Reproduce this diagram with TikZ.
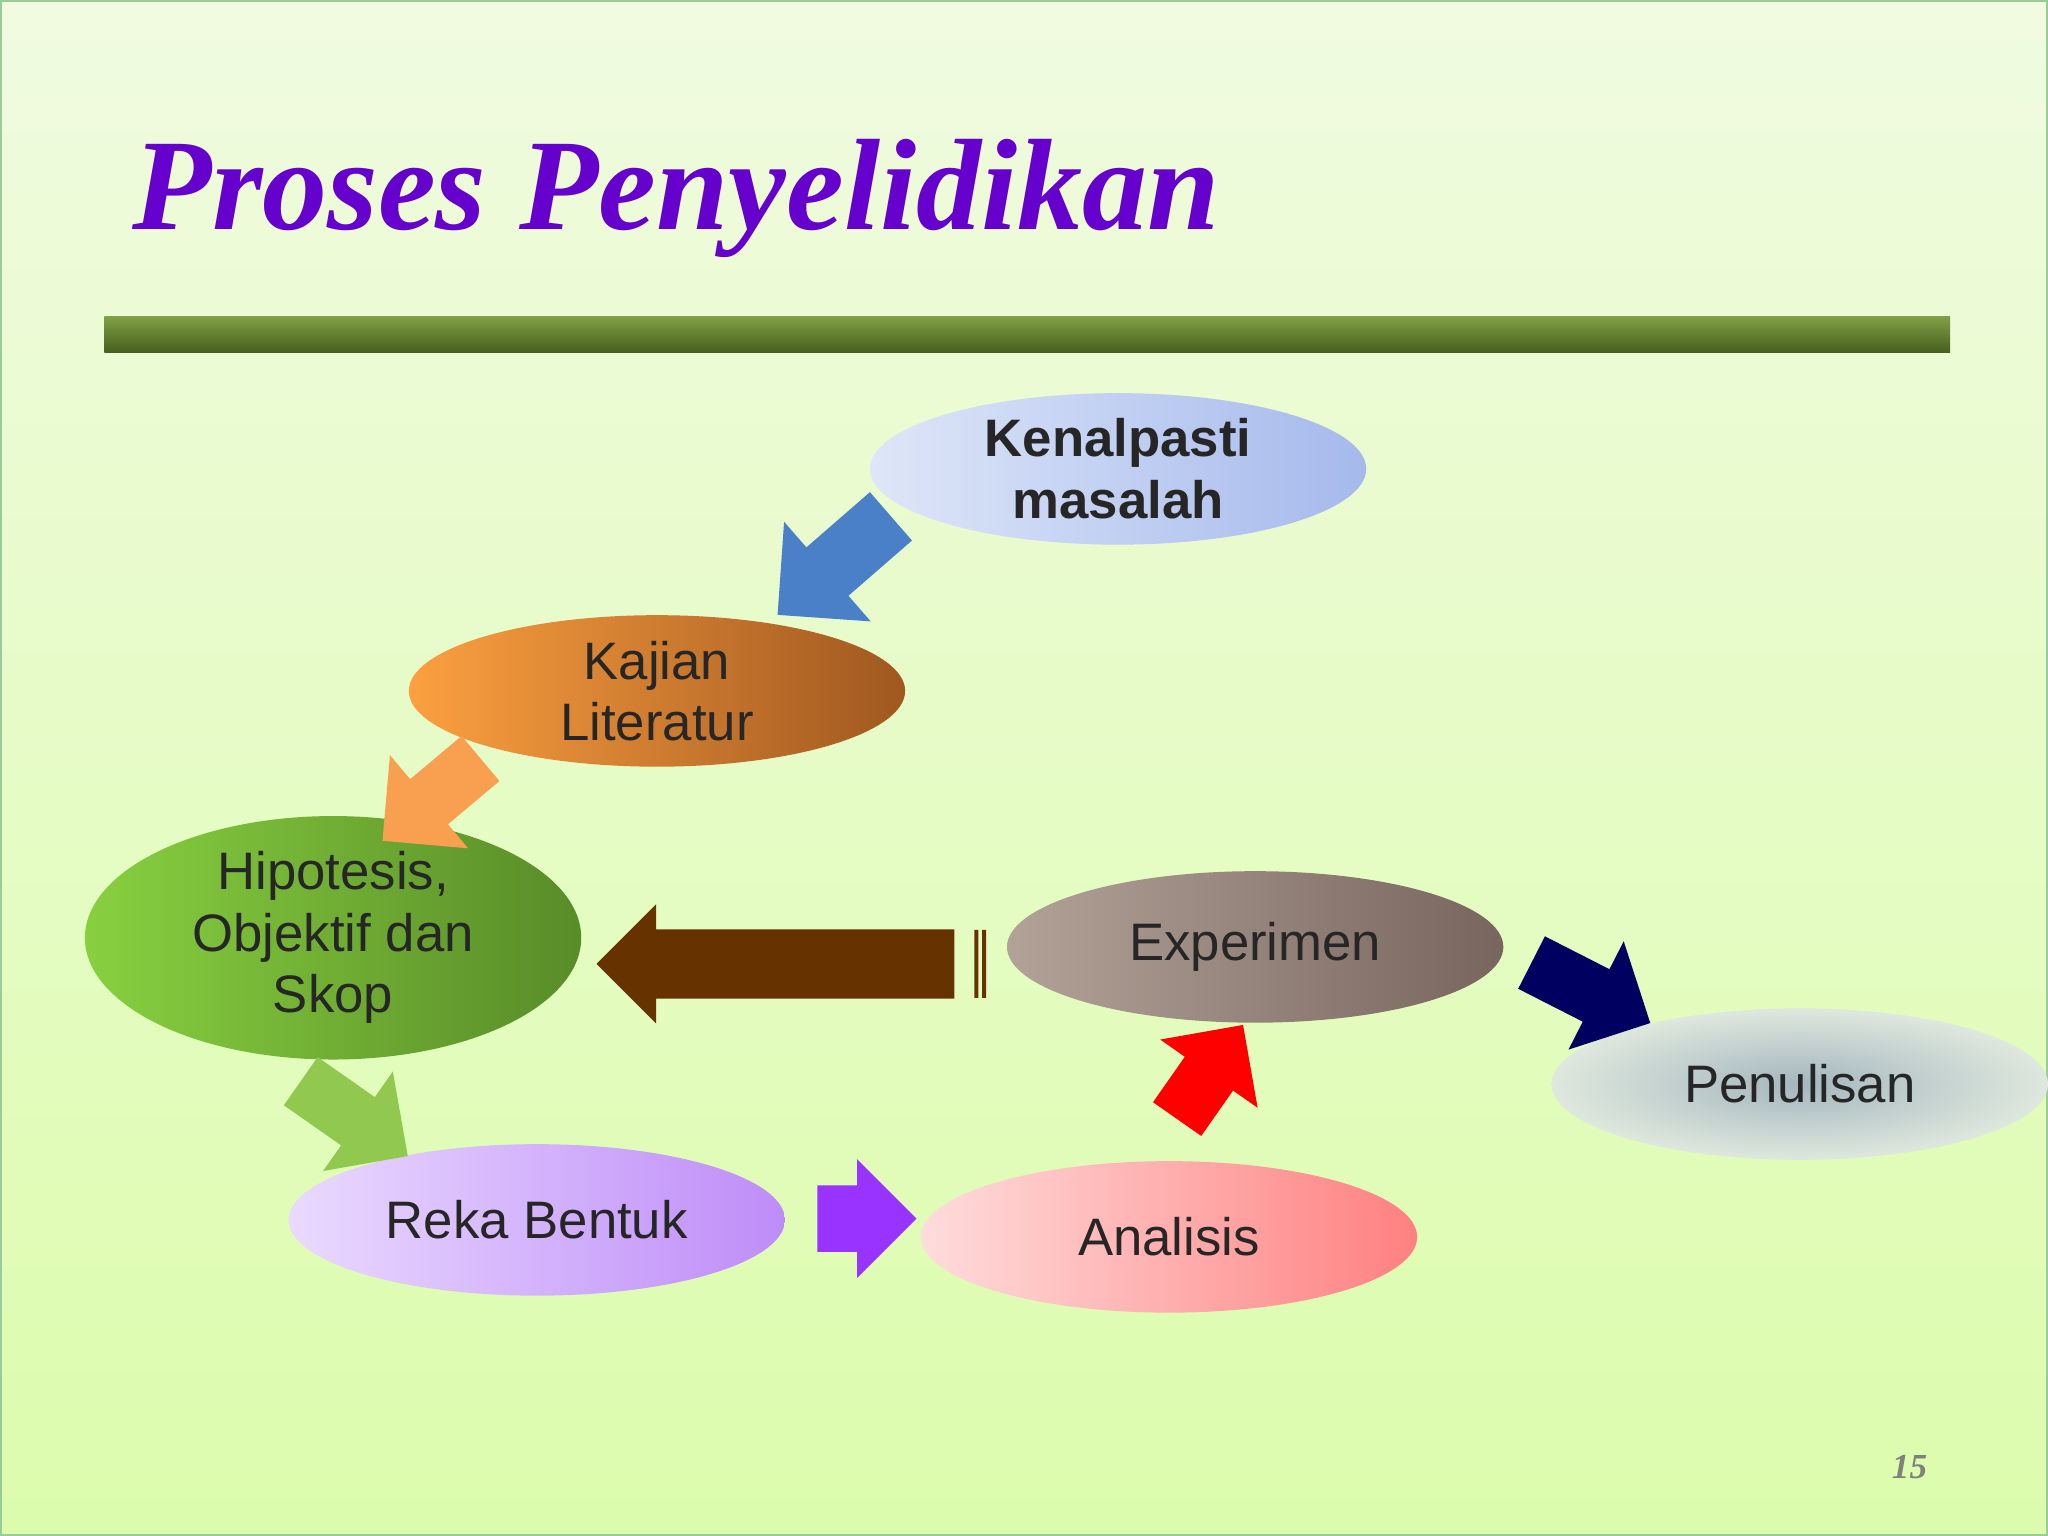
\documentclass[tikz,border=0pt]{standalone}
\usepackage{fontspec}
\setmainfont{Liberation Sans}
\newfontfamily\titlefont{Liberation Serif}
\usetikzlibrary{shapes.geometric,shapes.arrows}
\newcommand\px{0.01306cm}
\definecolor{brn}{RGB}{102,51,0}
\begin{document}
\begin{tikzpicture}[x=0.01306cm,y=-0.01306cm,
  el/.style={ellipse,minimum width=380*\px,minimum height=116*\px,align=center,font=\fontsize{15}{17.5}\selectfont,text=black!85,inner sep=0pt},
  arr/.style 2 args={single arrow,draw=none,inner xsep=0pt,inner ysep=#1/2*\px,single arrow head extend=(#2-#1)/2*\px}]
\useasboundingbox (0,0) rectangle (1568,1176);
\shade[top color={rgb,255:red,240;green,251;blue,224},bottom color={rgb,255:red,220;green,252;blue,172}] (0,0) rectangle (1568,1176);
\draw[green!50!black!40,line width=0.6pt] (1,1) rectangle (1567,1175);
\node[font=\titlefont\bfseries\itshape\fontsize{37}{40}\selectfont,text={rgb,255:red,102;green,0;blue,204},anchor=west] (title) at (92,152) {Proses Penyelidikan};
\shade[top color={rgb,255:red,130;green,160;blue,70},bottom color={rgb,255:red,70;green,95;blue,30}] (80,242) rectangle (1493,270);
% ellipses
\node[el,left color={rgb,255:red,222;green,230;blue,248},right color={rgb,255:red,165;green,185;blue,236},font=\bfseries\fontsize{15}{17.5}\selectfont] (ken) at (856,359) {Kenalpasti\\masalah};
\node[el,left color={rgb,255:red,252;green,160;blue,64},right color={rgb,255:red,160;green,88;blue,32}] (kaj) at (503,529) {Kajian\\Literatur};
\node[el,minimum height=156*\px,left color={rgb,255:red,136;green,208;blue,64},right color={rgb,255:red,88;green,140;blue,40}] (hip) at (255,718) {Hipotesis,\\Objektif dan\\Skop};
\node[el,left color={rgb,255:red,178;green,162;blue,152},right color={rgb,255:red,120;green,102;blue,94}] (exp) at (961,725) {Experimen};
\node[el,inner color={rgb,255:red,165;green,182;blue,190},outer color={rgb,255:red,222;green,232;blue,222}] (pen) at (1378,830) {Penulisan};
\node[el,left color={rgb,255:red,234;green,218;blue,255},right color={rgb,255:red,190;green,140;blue,248}] (rek) at (411,934) {Reka Bentuk};
\node[el,left color={rgb,255:red,255;green,220;blue,220},right color={rgb,255:red,255;green,128;blue,128}] (ana) at (895,947) {Analisis};
% arrows
\node[arr={48}{100},minimum height=115*\px,rotate=221,fill={rgb,255:red,74;green,128;blue,200}] (a1) at (648,425) {};
\node[arr={44}{92},minimum height=98*\px,rotate=220,fill={rgb,255:red,248;green,160;blue,80}] (a2) at (339,605) {};
\node[arr={44}{92},minimum height=100*\px,rotate=-35,fill={rgb,255:red,144;green,200;blue,80}] (a3) at (262,850) {};
\node[arr={50}{90},minimum height=76*\px,fill={rgb,255:red,153;green,51;blue,255}] (a4) at (651,933) {};
\node[arr={44}{90},minimum height=88*\px,rotate=55,fill=red] (a5) at (920,830) {};
\node[arr={44}{92},minimum height=102*\px,rotate=-27,fill={rgb,255:red,0;green,0;blue,96}] (a6) at (1208,755) {};
\node[arr={52}{90},minimum height=274*\px,rotate=180,fill=brn] (a7) at (607,738) {};
\fill[brn] (746,712) rectangle (749,764) (752,712) rectangle (755,764);
\node[font=\titlefont\bfseries\itshape\fontsize{10}{12}\selectfont,text=gray] (num) at (1462,1123) {15};
\end{tikzpicture}
\end{document}
